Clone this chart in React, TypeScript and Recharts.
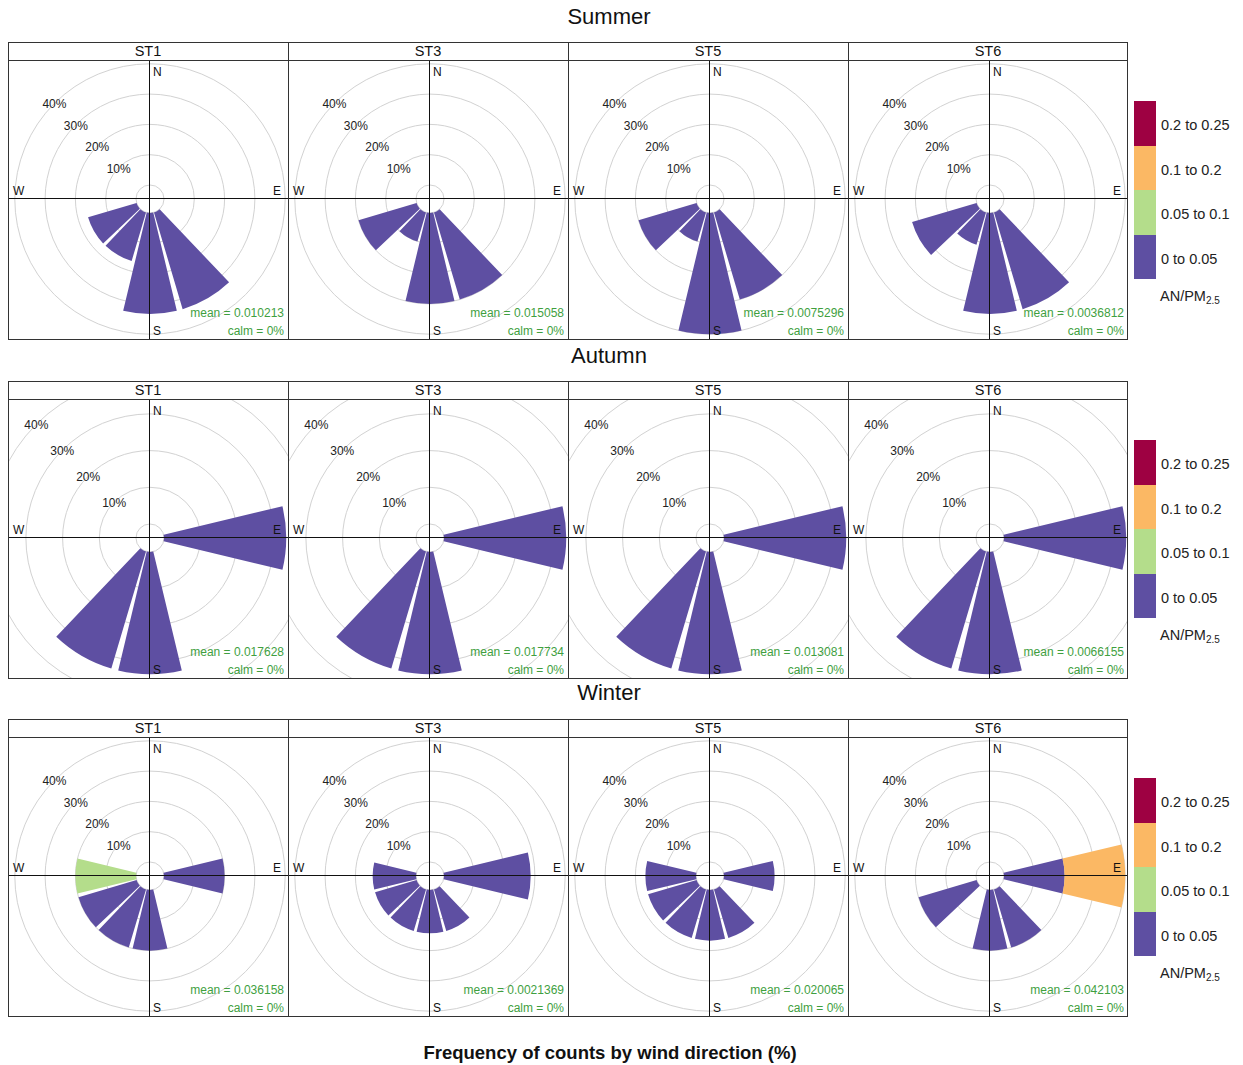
import { RadialBarChart, RadialBar, PolarAngleAxis, PolarRadiusAxis, PolarGrid } from 'recharts'

const FONT = '"Liberation Sans", Arial, Helvetica, sans-serif'

// 30° sectors, clockwise from north
const DIRS = ['N', 'NNE', 'ENE', 'E', 'ESE', 'SSE', 'S', 'SSW', 'WSW', 'W', 'WNW', 'NNW']
const STATIONS = ['ST1', 'ST3', 'ST5', 'ST6']
const SEASONS = ['Summer', 'Autumn', 'Winter']
const RING_TICKS = [0, 10, 20, 30, 40]
const BANDS = ['0 to 0.05', '0.05 to 0.1', '0.1 to 0.2', '0.2 to 0.25']
const BAND_COLORS = ['#5e4fa2', '#b4dd8b', '#fbb864', '#9e0142']

// frequency of counts (%) per sector, split by AN/PM2.5 band
const NONE = [0, 0, 0, 0, 0, 0, 0, 0, 0, 0, 0, 0]

const summerST1 = [0, 0, 0, 0, 0, 33.3, 33.3, 16.7, 16.7, 0, 0, 0]
const summerST3 = [0, 0, 0, 0, 0, 30, 30, 10, 20, 0, 0, 0]
const summerST5 = [0, 0, 0, 0, 0, 30, 40, 10, 20, 0, 0, 0]
const summerST6 = [0, 0, 0, 0, 0, 33.3, 33.3, 11.1, 22.2, 0, 0, 0]

const autumnST1 = [0, 0, 0, 33.3, 0, 0, 33.3, 33.3, 0, 0, 0, 0]
const autumnST3 = [0, 0, 0, 33.3, 0, 0, 33.3, 33.3, 0, 0, 0, 0]
const autumnST5 = [0, 0, 0, 33.3, 0, 0, 33.3, 33.3, 0, 0, 0, 0]
const autumnST6 = [0, 0, 0, 33.3, 0, 0, 33.3, 33.3, 0, 0, 0, 0]

const winterST1 = [0, 0, 0, 20, 0, 0, 20, 20, 20, 0, 0, 0]
const winterST1Mid = [0, 0, 0, 0, 0, 0, 0, 0, 0, 20, 0, 0]
const winterST3 = [0, 0, 0, 28.6, 0, 14.3, 14.3, 14.3, 14.3, 14.3, 0, 0]
const winterST5 = [0, 0, 0, 16.7, 0, 16.7, 16.7, 16.7, 16.7, 16.7, 0, 0]
const winterST6 = [0, 0, 0, 20, 0, 20, 20, 0, 20, 0, 0, 0]
const winterST6High = [0, 0, 0, 20, 0, 0, 0, 0, 0, 0, 0, 0]

const summerMeans = ['0.010213', '0.015058', '0.0075296', '0.0036812']
const autumnMeans = ['0.017628', '0.017734', '0.013081', '0.0066155']
const winterMeans = ['0.036158', '0.0021369', '0.020065', '0.042103']

const ROWS = [
  {
    top: 42,
    titleY: 17,
    outer: 135.2,
    means: summerMeans,
    panels: [
      [summerST1, NONE, NONE, NONE],
      [summerST3, NONE, NONE, NONE],
      [summerST5, NONE, NONE, NONE],
      [summerST6, NONE, NONE, NONE],
    ],
  },
  {
    top: 381,
    titleY: 356,
    outer: 160.8,
    means: autumnMeans,
    panels: [
      [autumnST1, NONE, NONE, NONE],
      [autumnST3, NONE, NONE, NONE],
      [autumnST5, NONE, NONE, NONE],
      [autumnST6, NONE, NONE, NONE],
    ],
  },
  {
    top: 719,
    titleY: 693,
    outer: 135.2,
    means: winterMeans,
    panels: [
      [winterST1, winterST1Mid, NONE, NONE],
      [winterST3, NONE, NONE, NONE],
      [winterST5, NONE, NONE, NONE],
      [winterST6, NONE, winterST6High, NONE],
    ],
  },
]

const PANEL_W = 280
const STRIP_H = 18
const CX = 142
const CY = 139
const GREEN = '#3f9f3f'

function RingLabel(props: any) {
  const { x, y, payload } = props
  if (payload.value === 0) return <g />
  return (
    <text x={x} y={y + 1} textAnchor="middle" dominantBaseline="central" fontSize={12} fill="#222" fontFamily={FONT}>
      {payload.value}%
    </text>
  )
}

function WindRose({ bands, outer }: { bands: number[][]; outer: number }) {
  const data = DIRS.map((dir, i) => ({
    dir,
    b0: bands[0][i],
    b1: bands[1][i],
    b2: bands[2][i],
    b3: bands[3][i],
  }))
  // angle axis runs clockwise; each category band starts at its own angle, so
  // starting at 75° centres the first (N) sector on 12 o'clock
  return (
    <RadialBarChart
      width={PANEL_W}
      height={PANEL_W}
      data={data}
      layout="centric"
      cx={CX}
      cy={CY}
      innerRadius={14}
      outerRadius={outer}
      startAngle={75}
      endAngle={-285}
      barCategoryGap="5%"
      margin={{ top: 0, right: 0, bottom: 0, left: 0 }}
    >
      <PolarGrid gridType="circle" radialLines={false} stroke="#d2d2d2" />
      <PolarAngleAxis type="category" dataKey="dir" tick={false} axisLine={false} />
      <PolarRadiusAxis
        type="number"
        domain={[0, 40]}
        ticks={RING_TICKS}
        angle={135}
        axisLine={false}
        tickLine={false}
        tick={RingLabel}
      />
      {BAND_COLORS.map((c, k) => (
        <RadialBar key={k} dataKey={`b${k}`} stackId="f" fill={c} isAnimationActive={false} />
      ))}
    </RadialBarChart>
  )
}

const abs = (s: React.CSSProperties): React.CSSProperties => ({ position: 'absolute', ...s })

function Panel({ x, top, name, bands, mean, outer }: any) {
  const plotTop = top + STRIP_H
  return (
    <>
      <div style={abs({ left: x, top: plotTop, width: PANEL_W, height: PANEL_W, overflow: 'hidden' })}>
        <WindRose bands={bands} outer={outer} />
      </div>
      {/* compass cross */}
      <div style={abs({ left: x + CX - 1, top: plotTop, width: 1.3, height: PANEL_W, background: '#111' })} />
      <div style={abs({ left: x, top: plotTop + CY - 1, width: PANEL_W, height: 1.3, background: '#111' })} />
      <div style={abs({ left: x + CX + 3, top: plotTop + 5, fontSize: 12 })}>N</div>
      <div style={abs({ left: x + CX + 3, top: plotTop + 264, fontSize: 12 })}>S</div>
      <div style={abs({ left: x + 5, top: plotTop + CY - 15, fontSize: 12 })}>W</div>
      <div style={abs({ left: x + PANEL_W - 15, top: plotTop + CY - 15, fontSize: 12 })}>E</div>
      <div style={abs({ right: 1243 - (x + PANEL_W - 4), top: plotTop + 246, fontSize: 12, color: GREEN, whiteSpace: 'nowrap' })}>
        mean = {mean}
      </div>
      <div style={abs({ right: 1243 - (x + PANEL_W - 4), top: plotTop + 264, fontSize: 12, color: GREEN, whiteSpace: 'nowrap' })}>
        calm = 0%
      </div>
      {/* strip */}
      <div style={abs({ left: x, top, width: PANEL_W, height: STRIP_H, textAlign: 'center', fontSize: 14.5, lineHeight: '18px' })}>
        {name}
      </div>
    </>
  )
}

function BandKey({ top }: { top: number }) {
  const order = [3, 2, 1, 0]
  return (
    <>
      {order.map((k, i) => (
        <div key={k}>
          <div style={abs({ left: 1134, top: top + i * 44.5, width: 22, height: 44.5, background: BAND_COLORS[k] })} />
          <div style={abs({ left: 1161, top: top + i * 44.5 + 16, fontSize: 14.5, whiteSpace: 'nowrap', color: '#222' })}>
            {BANDS[k]}
          </div>
        </div>
      ))}
      <div style={abs({ left: 1160, top: top + 187, fontSize: 14.5, whiteSpace: 'nowrap', color: '#222' })}>
        AN/PM<span style={{ fontSize: 10, verticalAlign: -3 }}>2.5</span>
      </div>
    </>
  )
}

export default function App() {
  return (
    <div style={abs({ left: 0, top: 0, width: 1243, height: 1065, background: '#fff', fontFamily: FONT, color: '#111', overflow: 'hidden' })}>
      {ROWS.map((row, r) => (
        <div key={SEASONS[r]}>
          <div style={abs({ left: 0, width: 1218, top: row.titleY - 13, textAlign: 'center', fontSize: 22 })}>{SEASONS[r]}</div>
          {STATIONS.map((st, p) => (
            <Panel
              key={st}
              x={8 + p * PANEL_W}
              top={row.top}
              name={st}
              bands={row.panels[p]}
              mean={row.means[p]}
              outer={row.outer}
            />
          ))}
          {/* frame, strip rule and panel dividers */}
          <div style={abs({ left: 8, top: row.top, width: 4 * PANEL_W, height: STRIP_H + PANEL_W, border: '1px solid #333', boxSizing: 'border-box' })} />
          <div style={abs({ left: 8, top: row.top + STRIP_H, width: 4 * PANEL_W, height: 1, background: '#333' })} />
          {[1, 2, 3].map((d) => (
            <div key={d} style={abs({ left: 8 + d * PANEL_W, top: row.top, width: 1, height: STRIP_H + PANEL_W, background: '#333' })} />
          ))}
          <BandKey top={row.top + 59} />
        </div>
      ))}
      <div style={abs({ left: 0, width: 1220, top: 1042, textAlign: 'center', fontSize: 18.5, fontWeight: 'bold' })}>
        Frequency of counts by wind direction (%)
      </div>
    </div>
  )
}
